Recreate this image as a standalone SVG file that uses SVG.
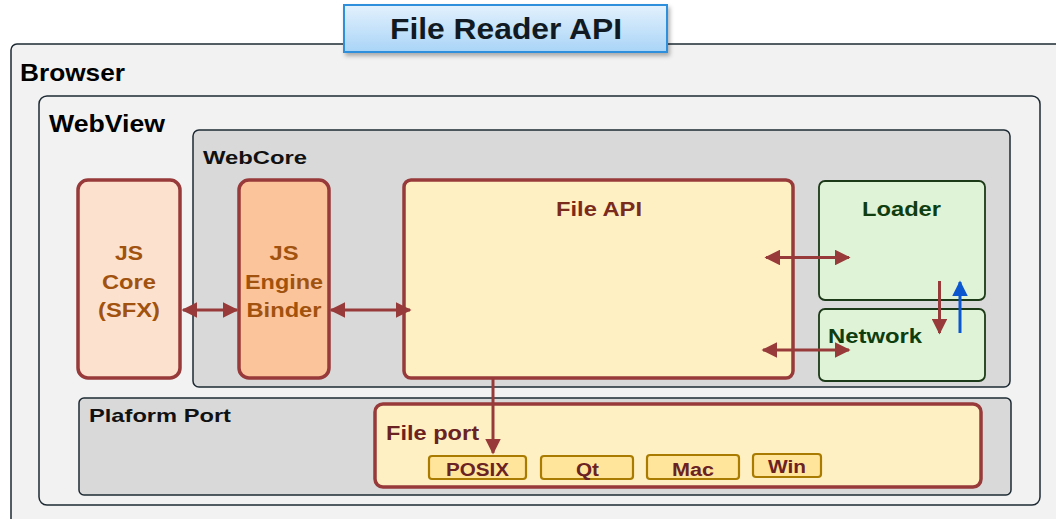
<svg xmlns="http://www.w3.org/2000/svg" width="1056" height="519" viewBox="0 0 1056 519">
<defs>
<linearGradient id="gTitle" x1="0" y1="0" x2="0" y2="1">
<stop offset="0" stop-color="#e3f1fd"/>
<stop offset="1" stop-color="#a9d4f7"/>
</linearGradient>
<filter id="sh" x="-10%" y="-20%" width="130%" height="160%">
<feDropShadow dx="2" dy="3" stdDeviation="2" flood-color="#000" flood-opacity="0.3"/>
</filter>
<marker id="ah" viewBox="0 0 10 10" refX="9" refY="5" markerWidth="5.2" markerHeight="5.2" orient="auto-start-reverse" markerUnits="strokeWidth">
<path d="M0,0 L10,5 L0,10 z" fill="#983a3a"/>
</marker>
<marker id="ahb" viewBox="0 0 10 10" refX="9" refY="5" markerWidth="5.2" markerHeight="5.2" orient="auto-start-reverse" markerUnits="strokeWidth">
<path d="M0,0 L10,5 L0,10 z" fill="#0b57d0"/>
</marker>
</defs>
<style>
text{font-family:"Liberation Sans",Arial,sans-serif;font-weight:bold}
.cont{stroke:#1d2a33;stroke-width:1.5}
.lbl{fill:#000;font-size:23px}
.lbl2{fill:#111;font-size:19px}
.js{fill:#a0520e;font-size:21px;text-anchor:middle}
.red{stroke:#983a3a;stroke-width:3.5}
.grn{fill:#dff4d7;stroke:#1c3a17;stroke-width:1.8}
.gt{fill:#0f3d0f;font-size:21px}
.sub{fill:#ffe59c;stroke:#a97b00;stroke-width:2.2}
.st{fill:#6b2222;font-size:18px;text-anchor:middle}
.arr{stroke:#983a3a;stroke-width:3;fill:none}
</style>
<rect id="bg" x="0" y="0" width="1056" height="519" fill="#ffffff"/>
<g id="browser">
<rect x="11" y="44" width="1060" height="490" rx="6" fill="#f2f2f2" class="cont"/>
<text x="20" y="81" class="lbl" textLength="105" lengthAdjust="spacingAndGlyphs">Browser</text>
</g>
<g id="webview">
<rect x="39" y="96" width="1001" height="409" rx="8" fill="#f2f2f2" class="cont"/>
<text x="49" y="132" class="lbl" textLength="116" lengthAdjust="spacingAndGlyphs">WebView</text>
</g>
<g id="webcore">
<rect x="193" y="130" width="817" height="257" rx="6" fill="#d9d9d9" class="cont"/>
<text x="203" y="164" class="lbl2" textLength="104" lengthAdjust="spacingAndGlyphs">WebCore</text>
</g>
<g id="platform">
<rect x="79" y="398" width="932" height="97" rx="5" fill="#d9d9d9" class="cont"/>
<text x="89" y="422" class="lbl2" textLength="142" lengthAdjust="spacingAndGlyphs">Plaform Port</text>
</g>
<g id="title">
<rect x="344" y="5" width="323" height="47" fill="url(#gTitle)" stroke="#2e8fdc" stroke-width="2" filter="url(#sh)"/>
<text x="390" y="39" font-size="29" fill="#111a22" textLength="232" lengthAdjust="spacingAndGlyphs">File Reader API</text>
</g>
<g id="jscore">
<rect x="78" y="180" width="102" height="198" rx="10" fill="#fde1cf" class="red"/>
<text x="129" y="260" class="js" textLength="28" lengthAdjust="spacingAndGlyphs">JS</text>
<text x="129" y="289" class="js" textLength="54" lengthAdjust="spacingAndGlyphs">Core</text>
<text x="129" y="317" class="js" textLength="62" lengthAdjust="spacingAndGlyphs">(SFX)</text>
</g>
<g id="jsbinder">
<rect x="239" y="180" width="90" height="198" rx="10" fill="#fcc49b" class="red"/>
<text x="284" y="260" class="js" textLength="29" lengthAdjust="spacingAndGlyphs">JS</text>
<text x="284" y="289" class="js" textLength="78" lengthAdjust="spacingAndGlyphs">Engine</text>
<text x="284" y="317" class="js" textLength="75" lengthAdjust="spacingAndGlyphs">Binder</text>
</g>
<g id="fileapi">
<rect x="404" y="180" width="389" height="198" rx="7" fill="#fff0c3" class="red"/>
<text x="599" y="216" fill="#7a2b1c" font-size="21" text-anchor="middle" textLength="86" lengthAdjust="spacingAndGlyphs">File API</text>
</g>
<g id="loader">
<rect x="819" y="181" width="166" height="119" rx="6" class="grn"/>
<text x="901.5" y="216" class="gt" text-anchor="middle" textLength="79" lengthAdjust="spacingAndGlyphs">Loader</text>
</g>
<g id="network">
<rect x="819" y="309" width="166" height="72" rx="6" class="grn"/>
<text x="828" y="343" class="gt" textLength="94" lengthAdjust="spacingAndGlyphs">Network</text>
</g>
<g id="fileport">
<rect x="375" y="404" width="606" height="83" rx="8" fill="#fff0c3" class="red"/>
<text x="386" y="440" fill="#6b2222" font-size="20" textLength="93" lengthAdjust="spacingAndGlyphs">File port</text>
</g>
<g id="posix">
<rect x="429" y="456" width="97" height="23" rx="3" class="sub"/>
<text x="477.5" y="476" class="st" textLength="63" lengthAdjust="spacingAndGlyphs">POSIX</text>
</g>
<g id="qt">
<rect x="541" y="456" width="92" height="23" rx="3" class="sub"/>
<text x="587.5" y="476" class="st" textLength="23" lengthAdjust="spacingAndGlyphs">Qt</text>
</g>
<g id="mac">
<rect x="647" y="455" width="92" height="24" rx="3" class="sub"/>
<text x="693" y="476" class="st" textLength="42" lengthAdjust="spacingAndGlyphs">Mac</text>
</g>
<g id="win">
<rect x="753" y="454" width="68" height="23" rx="3" class="sub"/>
<text x="787" y="473" class="st" textLength="38" lengthAdjust="spacingAndGlyphs">Win</text>
</g>
<g id="connectors">
<line x1="183" y1="310" x2="237" y2="310" class="arr" marker-start="url(#ah)" marker-end="url(#ah)"/>
<line x1="331" y1="310" x2="410" y2="310" class="arr" marker-start="url(#ah)" marker-end="url(#ah)"/>
<line x1="766" y1="257.5" x2="849" y2="257.5" class="arr" marker-start="url(#ah)" marker-end="url(#ah)"/>
<line x1="763" y1="350" x2="849" y2="350" class="arr" marker-start="url(#ah)" marker-end="url(#ah)"/>
<line x1="939.5" y1="281" x2="939.5" y2="333" class="arr" marker-end="url(#ah)"/>
<line x1="960" y1="333" x2="960" y2="282" stroke="#0b57d0" stroke-width="3" marker-end="url(#ahb)"/>
<line x1="493" y1="378" x2="493" y2="453" class="arr" marker-end="url(#ah)"/>
</g>
</svg>
